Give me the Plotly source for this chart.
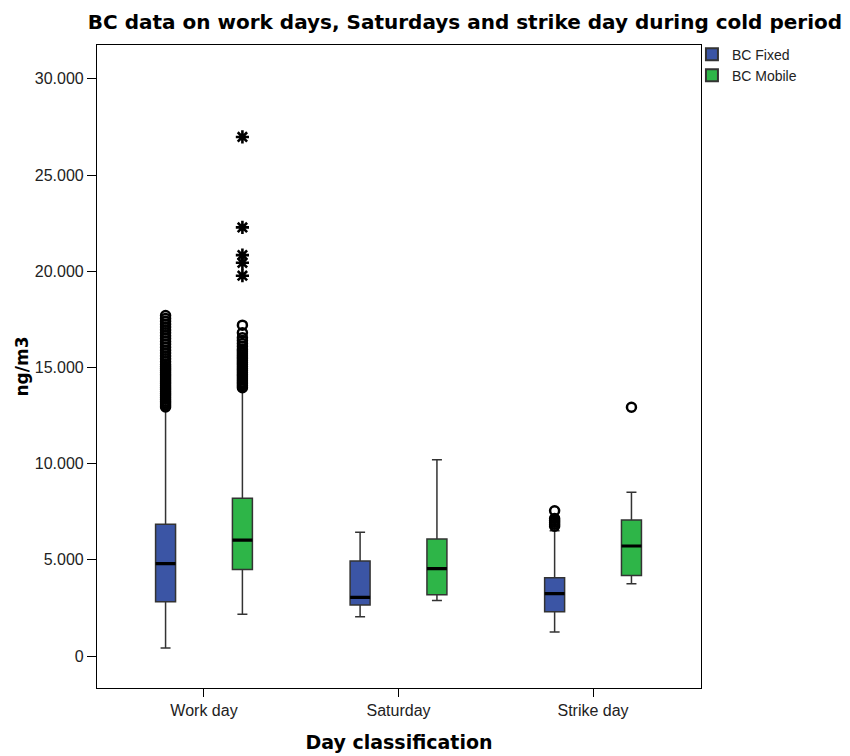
import plotly.graph_objects as go

# Day classes on the category axis
days = ["Work day", "Saturday", "Strike day"]

# BC Fixed box statistics (ng/m3)
fixed_q1 = [2820, 2650, 2300]
fixed_median = [4800, 3050, 3240]
fixed_q3 = [6850, 4940, 4070]
fixed_low = [420, 2040, 1250]
fixed_high = [12880, 6430, 6510]

# BC Mobile box statistics (ng/m3)
mobile_q1 = [4500, 3190, 4190]
mobile_median = [6030, 4540, 5720]
mobile_q3 = [8200, 6080, 7070]
mobile_low = [2170, 2890, 3760]
mobile_high = [13900, 10200, 8520]

# Outliers (circles) per day
fixed_out_work = [12950, 13050, 13150, 13250, 13350, 13450, 13550, 13650, 13750,
                  13850, 13950, 14050, 14150, 14250, 14350, 14450, 14550, 14650,
                  14750, 14850, 14950, 15050, 15150, 15300, 15450, 15600, 15750,
                  15900, 16050, 16200, 16350, 16500, 16650, 16800, 16950, 17100,
                  17250, 17400, 17550, 17700]
fixed_out_strike = [6750, 6850, 6950, 7050, 7150, 7550]
mobile_out_work = [13950, 14050, 14150, 14250, 14350, 14450, 14550, 14650, 14750,
                   14850, 14950, 15050, 15150, 15250, 15350, 15450, 15550, 15650,
                   15750, 15850, 15950, 16100, 16250, 16400, 16550, 16800, 17200]
mobile_out_strike = [12930]

# Extreme values (stars)
mobile_extreme_work = [19770, 20440, 20840, 22280, 26980]

blue = "#3b55a5"
green = "#2eb548"
edge = "#333333"
BOLD_FONT = "DejaVu Sans, Liberation Sans, Arial, sans-serif"
TEXT_FONT = "Liberation Sans, Arial, sans-serif"

fig = go.Figure()


def add_series(name, color, group, q1, med, q3, lo, hi, out_x, out_y, ext_x, ext_y):
    fig.add_trace(go.Box(
        name=name, x=days, q1=q1, median=med, q3=q3,
        lowerfence=lo, upperfence=hi,
        fillcolor=color, line=dict(color=edge, width=1.5),
        whiskerwidth=0.5, offsetgroup=group, boxpoints=False,
        showlegend=True, hoverinfo="skip",
    ))
    # thicker median bar
    fig.add_trace(go.Box(
        x=days, q1=med, median=med, q3=med, lowerfence=med, upperfence=med,
        fillcolor="rgba(0,0,0,0)", line=dict(color="black", width=3.2),
        whiskerwidth=0, offsetgroup=group, boxpoints=False,
        showlegend=False, hoverinfo="skip",
    ))
    # outliers
    fig.add_trace(go.Box(
        x=out_x, y=out_y, boxpoints="all", jitter=0, pointpos=0,
        fillcolor="rgba(0,0,0,0)", line=dict(color="rgba(0,0,0,0)", width=0),
        marker=dict(symbol="circle-open", size=9, color="black",
                    line=dict(color="black", width=2.5)),
        offsetgroup=group, showlegend=False, hoverinfo="skip",
    ))
    if ext_y:
        fig.add_trace(go.Box(
            x=ext_x, y=ext_y, boxpoints="all", jitter=0, pointpos=0,
            fillcolor="rgba(0,0,0,0)", line=dict(color="rgba(0,0,0,0)", width=0),
            marker=dict(symbol="asterisk-open", size=11, color="black",
                        line=dict(color="black", width=2.6)),
            offsetgroup=group, showlegend=False, hoverinfo="skip",
        ))


add_series("BC Fixed", blue, "fixed",
           fixed_q1, fixed_median, fixed_q3, fixed_low, fixed_high,
           ["Work day"] * len(fixed_out_work) + ["Strike day"] * len(fixed_out_strike),
           fixed_out_work + fixed_out_strike, [], [])
add_series("BC Mobile", green, "mobile",
           mobile_q1, mobile_median, mobile_q3, mobile_low, mobile_high,
           ["Work day"] * len(mobile_out_work) + ["Strike day"] * len(mobile_out_strike),
           mobile_out_work + mobile_out_strike,
           ["Work day"] * len(mobile_extreme_work), mobile_extreme_work)

axis_font = dict(family=TEXT_FONT, size=16, color="#222222")

fig.update_layout(
    width=850, height=756,
    paper_bgcolor="white", plot_bgcolor="white",
    margin=dict(l=97, r=149, t=45, b=68, autoexpand=False),
    boxmode="group", boxgap=0.21, boxgroupgap=0.74,
    separators=",.",
    title=dict(text="<b>BC data on work days, Saturdays and strike day during cold period</b>",
               x=0.547, xref="container", xanchor="center",
               y=1 - 22 / 756, yref="container", yanchor="middle",
               font=dict(family=BOLD_FONT, size=20, color="black")),
    legend=dict(x=0.985, xanchor="left", y=1.01, yanchor="top",
                font=dict(family=TEXT_FONT, size=14, color="#222222"),
                bgcolor="rgba(0,0,0,0)", tracegroupgap=0, itemsizing="constant"),
    showlegend=True,
)

fig.update_xaxes(
    type="category", categoryorder="array", categoryarray=days,
    range=[-0.55, 2.555], showline=True, linecolor="black", linewidth=1.2, mirror=True,
    ticks="outside", ticklen=8, tickcolor="black", showgrid=False, zeroline=False,
    tickfont=axis_font,
    title=dict(text="<b>Day classification</b>", standoff=17,
               font=dict(family=BOLD_FONT, size=19, color="black")),
)
fig.update_yaxes(
    range=[-1660, 31760], tickvals=[0, 5000, 10000, 15000, 20000, 25000, 30000],
    tickformat=",d", showline=True, linecolor="black", linewidth=1.2, mirror=True,
    ticks="outside", ticklen=9, tickcolor="black", showgrid=False, zeroline=False,
    tickfont=axis_font,
    title=dict(text="<b>ng/m3</b>", standoff=1,
               font=dict(family=BOLD_FONT, size=17, color="black")),
)

fig.write_html("out.html")
